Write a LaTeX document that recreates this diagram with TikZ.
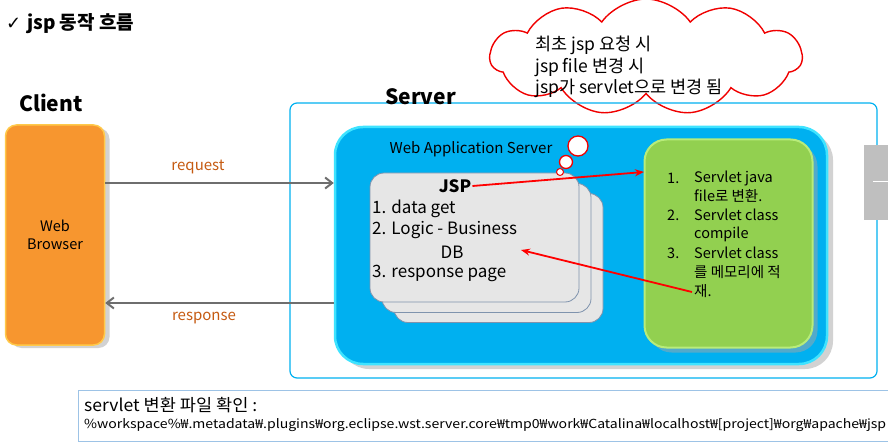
\documentclass[tikz,border=0pt]{standalone}
\usepackage{fontspec}
\usepackage{graphicx}
\setmainfont{Noto Sans CJK KR}
\newfontfamily\symfont{DejaVu Sans}
\usetikzlibrary{shapes.symbols,shadows,arrows.meta}
\definecolor{wasblue}{HTML}{00B0F0}
\definecolor{glowcyan}{HTML}{3FE3FF}
\definecolor{browserorange}{HTML}{F7962F}
\definecolor{glowyellow}{HTML}{FFC94A}
\definecolor{greenbox}{HTML}{92D050}
\definecolor{greenglow}{HTML}{B8EC7A}
\definecolor{cardgray}{HTML}{E6E6E6}
\definecolor{cardedge}{HTML}{7F93AD}
\definecolor{labelbrown}{HTML}{C55A11}
\definecolor{arrowgray}{HTML}{6E6E6E}
\definecolor{pathblue}{HTML}{9DC3E6}
\definecolor{cloudred}{HTML}{F00000}
\tikzset{
  sz/.style={font=\fontsize{#1}{#1}\selectfont},
  bsz/.style={font=\bfseries\fontsize{#1}{#1}\selectfont},
  card/.style={draw=cardedge, line width=0.8pt, fill=cardgray, rounded corners=14pt,
    minimum width=209pt, minimum height=129pt, inner sep=0pt},
  grayarrow/.style={draw=arrowgray, line width=2.4pt, -{Straight Barb[length=7pt,width=11pt,line width=2pt]}},
  redarrow/.style={draw=red, line width=1.8pt, -{Stealth[length=9pt,width=7pt]}},
  bubble/.style={draw=cloudred, fill=white, line width=1.3pt},
  txt/.style={anchor=west, inner sep=0pt},
}
\begin{document}
\begin{tikzpicture}[x=1pt,y=-1pt]
\useasboundingbox (0,0) rectangle (888,443);

% title
\node[txt] (check) at (6,24) {\symfont\bfseries\fontsize{18}{18}\selectfont ✓};
\node[txt, bsz=19] (title) at (27,24) {jsp 동작 흐름};

% client
\node[txt, bsz=21] (client) at (19,103) {Client};
\node[draw=glowyellow, line width=1.5pt, fill=browserorange, rounded corners=11pt,
  minimum width=99pt, minimum height=220pt, inner sep=0pt, align=center, sz=14.5,
  drop shadow={shadow xshift=5pt, shadow yshift=-3pt, fill=black!35}] (browser) at (55,235)
  {Web\\[4pt]Browser};

% cloud (drawn before frame so the frame line crosses it)
\node[cloud, cloud puffs=11, cloud puff arc=110, aspect=2.6, draw=cloudred, fill=white,
  line width=1.4pt, minimum width=312pt, minimum height=116pt] (cloud) at (646,57) {};

% server frame
\node[draw=wasblue, line width=1.2pt, rounded corners=7pt, minimum width=587pt,
  minimum height=275pt, inner sep=0pt] (frame) at (583.5,240.5) {};
\node[txt, bsz=21] (server) at (385,97) {Server};

% cloud text
\node[txt, sz=17.5] (c1) at (535,45) {최초 jsp 요청 시};
\node[txt, sz=17.5] (c2) at (535,67) {jsp file 변경 시};
\node[txt, sz=17.5] (c3) at (535,88) {jsp가 servlet으로 변경 됨};

% web application server
\node[draw=glowcyan, line width=2.5pt, fill=wasblue, rounded corners=28pt,
  minimum width=492pt, minimum height=237pt, inner sep=0pt,
  drop shadow={shadow xshift=6pt, shadow yshift=-5pt, fill=black!35}] (was) at (581,245.5) {};
\node[sz=15, inner sep=0pt] (waslabel) at (471,149) {Web Application Server};

% jsp cards
\node[card] (card3) at (498.5,258) {};
\node[card] (card2) at (486.5,248) {};
\node[card] (card1) at (474.5,237.5) {};
\node[bsz=17, inner sep=1pt] (jsp) at (455,186) {JSP};
\node[txt, sz=17] (l1) at (372,209) {1. data get};
\node[txt, sz=17] (l2) at (372,230) {2. Logic - Business};
\node[sz=17, inner sep=0pt] (db) at (452,252) {DB};
\node[txt, sz=17] (l3) at (372,273) {3. response page};

% green box
\node[draw=greenglow, line width=2pt, fill=greenbox, rounded corners=22pt,
  minimum width=168pt, minimum height=208pt, inner sep=0pt,
  drop shadow={shadow xshift=5pt, shadow yshift=-5pt, fill=black!35}] (green) at (728.5,243.5) {};
\node[txt, sz=14.5] (n1) at (667,178) {1.};
\node[txt, sz=14.5] (g1) at (694,178) {Servlet java};
\node[txt, sz=14.5] (g2) at (694,196) {file로 변환.};
\node[txt, sz=14.5] (n2) at (667,215) {2.};
\node[txt, sz=14.5] (g3) at (694,215) {Servlet class};
\node[txt, sz=14.5] (g4) at (694,234) {compile};
\node[txt, sz=14.5] (n3) at (667,253) {3.};
\node[txt, sz=14.5] (g5) at (694,253) {Servlet class};
\node[txt, sz=14.5] (g6) at (694,272) {를 메모리에 적};
\node[txt, sz=14.5] (g7) at (694,291) {재.};

% request / response
\draw[grayarrow] (browser.east |- 0,183) -- (was.west |- 0,183);
\node[sz=15, text=labelbrown] (req) at (198,167) {request};
\draw[grayarrow] (was.west |- 0,303) -- (browser.east |- 0,303);
\node[sz=15, text=labelbrown] (resp) at (204,318) {response};

% red arrows
\coordinate (gin) at (644,172);
\coordinate (memStart) at (692,292);
\coordinate (dbEnd) at (521,250);
\draw[redarrow] (jsp.east) -- (gin);
\draw[redarrow] (memStart) -- (dbEnd);

% thought bubbles
\node[bubble, circle, minimum size=20pt, inner sep=0pt] (b1) at (578,146) {};
\node[bubble, circle, minimum size=13pt, inner sep=0pt] (b2) at (566,162) {};
\node[bubble, circle, minimum size=7pt, inner sep=0pt, line width=1pt] (b3) at (560,172) {};

% right-edge gray tab
\fill[black!25] (864,145) rectangle (888,220);
\draw[white, line width=1pt] (873,182) -- (888,182);

% bottom path box
\node[draw=pathblue, line width=1pt, minimum width=812pt, minimum height=51pt, inner sep=0pt] (pathbox) at (484,415.5) {};
\node[txt, sz=17] (p1) at (84,405) {\resizebox{173pt}{\height}{servlet 변환 파일 확인 :}};
\node[txt, sz=12.5] (p2) at (84,425) {\resizebox{802pt}{\height}{\%workspace\%₩.metadata₩.plugins₩org.eclipse.wst.server.core₩tmp0₩work₩Catalina₩localhost₩[project]₩org₩apache₩jsp}};
\end{tikzpicture}
\end{document}
